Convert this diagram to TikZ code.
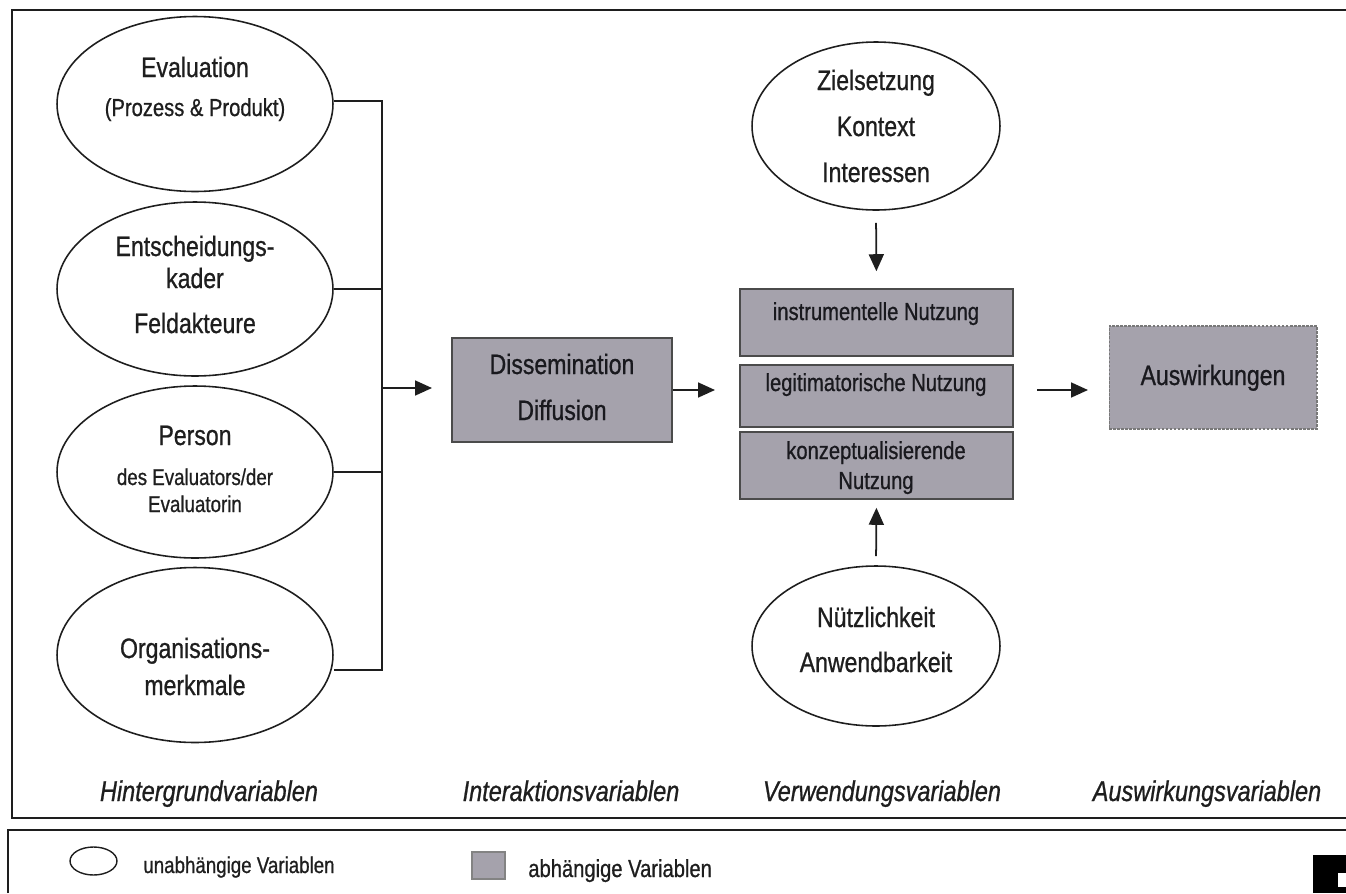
\documentclass[tikz,border=0pt]{standalone}
\usepackage{fontspec}
\setmainfont{Liberation Sans}[FakeStretch=0.82,FakeBold=0.8]
\usetikzlibrary{shapes.geometric,arrows.meta}
\definecolor{boxgray}{RGB}{165,162,172}
\definecolor{ink}{RGB}{30,30,30}
\definecolor{boxink}{RGB}{25,25,30}
\tikzset{
  var/.style={ellipse,draw=ink,line width=0.9pt,inner sep=0pt},
  dep/.style={rectangle,draw=ink!80,fill=boxgray,line width=0.9pt,inner sep=0pt},
  big/.style={anchor=base,inner sep=0pt,text=ink,font=\fontsize{16pt}{19pt}\selectfont},
  small/.style={anchor=base,inner sep=0pt,text=ink,font=\fontsize{13pt}{15pt}\selectfont},
  mid/.style={anchor=base,inner sep=0pt,text=ink,font=\fontsize{14pt}{16pt}\selectfont},
  captext/.style={anchor=base,inner sep=0pt,text=ink,font=\fontsize{16.3pt}{18pt}\selectfont\itshape},
  conn/.style={draw=ink,line width=0.9pt},
  arr/.style={draw=ink,line width=1pt,-{Triangle[length=0.34cm,width=0.3cm]}},
  frame/.style={draw=ink,line width=1.3pt}
}
\begin{document}
\begin{tikzpicture}[x=0.02cm,y=-0.02cm]
\useasboundingbox (0,0) rectangle (1346,893);
% frames
\draw[frame] (1346,10) -- (12,10) -- (12,818) -- (1346,818);
\draw[frame] (8,893) -- (8,830) -- (1346,830);
% left ellipses
\node[var,minimum width=5.52cm,minimum height=3.5cm] (e1) at (195,104) {};
\node[var,minimum width=5.52cm,minimum height=3.48cm] (e2) at (195,289) {};
\node[var,minimum width=5.52cm,minimum height=3.44cm] (e3) at (195,472) {};
\node[var,minimum width=5.52cm,minimum height=3.5cm] (e4) at (195,655) {};
\node[big] (t1a) at (195,77) {Evaluation};
\node[mid] (t1b) at (195,116) {(Prozess \& Produkt)};
\node[big] (t2a) at (195,256) {Entscheidungs-};
\node[big] (t2b) at (195,288) {kader};
\node[big] (t2c) at (195,333) {Feldakteure};
\node[big] (t3a) at (195,445) {Person};
\node[small] (t3b) at (195,485) {des Evaluators/der};
\node[small] (t3c) at (195,512) {Evaluatorin};
\node[big] (t4a) at (195,658) {Organisations-};
\node[big] (t4b) at (195,695) {merkmale};
% bracket
\coordinate (j1) at (382,101);
\coordinate (j4) at (382,670);
\coordinate (jm) at (382,388);
\coordinate (jt) at (432,388);
\draw[conn] (e1.east |- j1) -- (j1) -- (j4) -- (e4.east |- j4);
\draw[conn] (e2.east) -- (e2.east -| j1);
\draw[conn] (e3.east) -- (e3.east -| j1);
\draw[arr] (jm) -- (jt);
% dissemination
\node[dep,minimum width=4.4cm,minimum height=2.08cm] (diss) at (562,390) {};
\node[big,text=boxink] (td1) at (562,374) {Dissemination};
\node[big,text=boxink] (td2) at (562,420) {Diffusion};
% Nutzung boxes
\node[dep,minimum width=5.46cm,minimum height=1.34cm] (b1) at (876.5,322.5) {};
\node[dep,minimum width=5.46cm,minimum height=1.24cm] (b2) at (876.5,396) {};
\node[dep,minimum width=5.46cm,minimum height=1.34cm] (b3) at (876.5,465.5) {};
\node[mid,text=boxink] (tb1) at (876,320) {instrumentelle Nutzung};
\node[mid,text=boxink] (tb2) at (876,391) {legitimatorische Nutzung};
\node[mid,text=boxink] (tb3a) at (876,459) {konzeptualisierende};
\node[mid,text=boxink] (tb3b) at (876,489) {Nutzung};
\coordinate (a2e) at (715,390);
\draw[arr] (diss.east) -- (a2e);
% top / bottom ellipses
\node[var,minimum width=4.96cm,minimum height=3.36cm] (zt) at (876,126) {};
\node[big] (tz1) at (876,90) {Zielsetzung};
\node[big] (tz2) at (876,136) {Kontext};
\node[big] (tz3) at (876,182) {Interessen};
\node[var,minimum width=4.96cm,minimum height=3.2cm] (zb) at (876,646) {};
\node[big] (tn1) at (876,627) {Nützlichkeit};
\node[big] (tn2) at (876,672) {Anwendbarkeit};
\draw[arr,shorten <=0.24cm,shorten >=0.34cm] (zt.south) -- (b1.north);
\draw[arr,shorten <=0.18cm,shorten >=0.16cm] (zb.north) -- (b3.south);
% Auswirkungen
\node[dep,draw=ink!60,line width=0.6pt,dash pattern=on 1.5pt off 0.8pt,minimum width=4.16cm,minimum height=2.06cm] (aus) at (1213,377.5) {};
\node[big,text=boxink] (ta) at (1213,385) {Auswirkungen};
\coordinate (a3s) at (1037,390);
\coordinate (a3e) at (1088,390);
\draw[arr] (a3s) -- (a3e);
% captions
\node[captext] (c1) at (209,801) {Hintergrundvariablen};
\node[captext] (c2) at (571,801) {Interaktionsvariablen};
\node[captext] (c3) at (882,801) {Verwendungsvariablen};
\node[captext] (c4) at (1207,801) {Auswirkungsvariablen};
% legend
\node[var,line width=0.8pt,minimum width=0.94cm,minimum height=0.56cm] (le) at (93.5,861) {};
\node[small,anchor=base west] (lt1) at (143,873) {unabhängige Variablen};
\node[dep,line width=0.6pt,draw=ink!55,minimum width=0.66cm,minimum height=0.54cm] (lb) at (488.5,865.5) {};
\node[mid,anchor=base west] (lt2) at (528,877) {abhängige Variablen};
% corner mark
\fill[black] (1313,855) rectangle (1346,893);
\fill[white] (1338,873) rectangle (1346,887);
\end{tikzpicture}
\end{document}
